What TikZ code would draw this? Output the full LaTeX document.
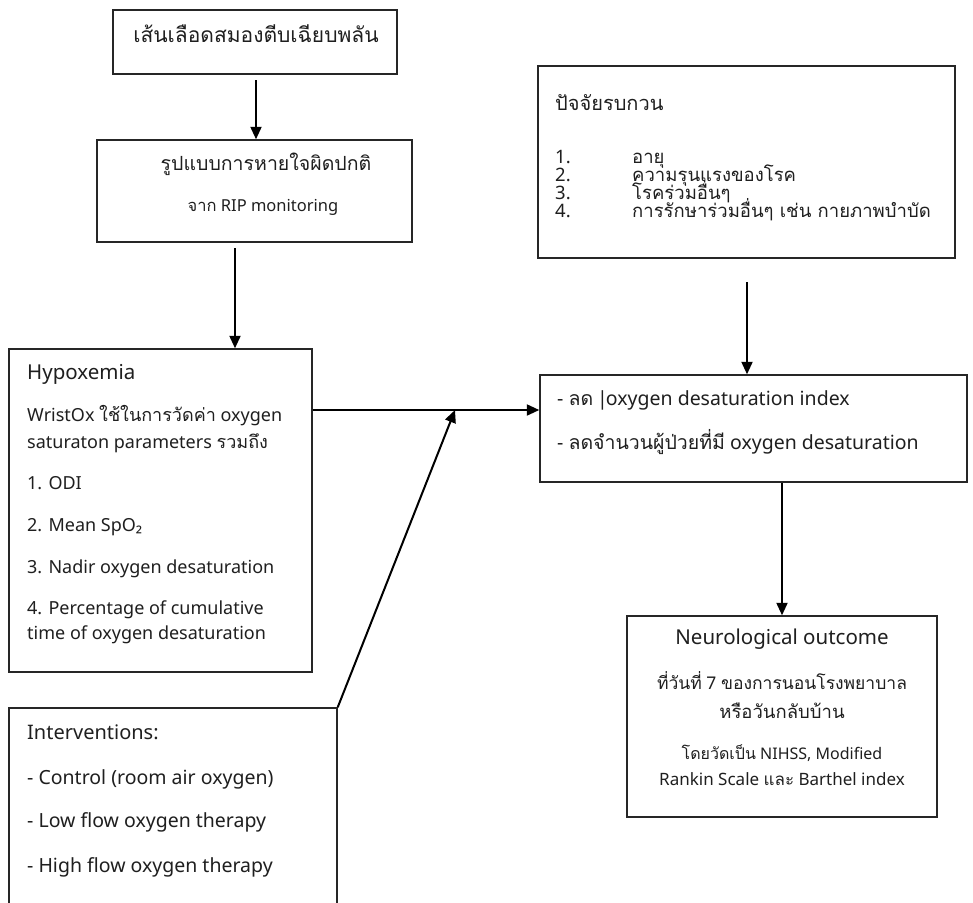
\documentclass[tikz,border=0pt]{standalone}
\usepackage{fontspec}
\setmainfont{Noto Sans}
\newfontfamily\tht[Script=Thai]{Loma}
\usetikzlibrary{arrows.meta}
\tikzset{
  box/.style={draw=black!85, line width=1.4pt, inner sep=0pt},
  conn/.style={line width=2pt, draw=black, -{Triangle[length=12.5pt,width=11pt]}},
  txt/.style={anchor=base west, inner sep=0pt, text=black!88, font=\fontsize{18}{21}\selectfont},
  ctxt/.style={anchor=base, inner sep=0pt, text=black!88, font=\fontsize{18}{21}\selectfont},
  fs/.style={font=\fontsize{#1}{#1}\selectfont},
}
\begin{document}
\begin{tikzpicture}[x=1pt,y=-1pt]
\useasboundingbox (0,0) rectangle (973,902);
\clip (0,0) rectangle (973,902);
\fill[white] (0,0) rectangle (973,902);

% boxes
\node[box, minimum width=284pt, minimum height=64pt] (b1) at (255,42) {};
\node[box, minimum width=315pt, minimum height=102pt] (b2) at (254.5,191) {};
\node[box, minimum width=303pt, minimum height=323pt] (hyp) at (160.5,510.5) {};
\node[box, minimum width=328pt, minimum height=210pt] (intv) at (173,813) {};
\node[box, minimum width=417pt, minimum height=192pt] (conf) at (746.5,162) {};
\node[box, minimum width=427pt, minimum height=107pt] (red) at (753.5,428.5) {};
\node[box, minimum width=310pt, minimum height=201pt] (out) at (782,716.5) {};

% box 1
\node[ctxt, fs=21] (t1) at (256,42) {\tht เส้นเลือดสมองตีบเฉียบพลัน};
% box 2
\node[ctxt, fs=19.5] (t2a) at (266,170) {\tht รูปแบบการหายใจผิดปกติ};
\node[ctxt, fs=16.5] (t2b) at (263,211) {{\tht จาก} RIP monitoring};
% hypoxemia
\node[txt, fs=20.5] (h0) at (27,379) {Hypoxemia};
\node[txt] (h1) at (27,421) {WristOx {\tht ใช้ในการวัดค่า} oxygen};
\node[txt] (h2) at (27,448) {saturaton parameters {\tht รวมถึง}};
\node[txt] (h3) at (27,489) {1. ODI};
\node[txt] (h4) at (27,531) {2. Mean SpO₂};
\node[txt] (h5) at (27,573) {3. Nadir oxygen desaturation};
\node[txt] (h6) at (27,614) {4. Percentage of cumulative};
\node[txt] (h7) at (27,639) {time of oxygen desaturation};
% interventions
\node[txt, fs=20] (i0) at (27,739) {Interventions:};
\node[txt, fs=19.5] (i1) at (27,784) {- Control (room air oxygen)};
\node[txt, fs=19.5] (i2) at (27,827) {- Low flow oxygen therapy};
\node[txt, fs=19.5] (i3) at (27,872) {- High flow oxygen therapy};
% confounders
\node[txt, fs=20] (c0) at (555,110) {\tht ปัจจัยรบกวน};
\node[txt, fs=18.5] (n1) at (555,163) {1.};
\node[txt, fs=18.5] (n2) at (555,181) {2.};
\node[txt, fs=18.5] (n3) at (555,199) {3.};
\node[txt, fs=18.5] (n4) at (555,217) {4.};
\node[txt, fs=18.5] (c1) at (632,163) {\tht อายุ};
\node[txt, fs=18.5] (c2) at (632,181) {\tht ความรุนแรงของโรค};
\node[txt, fs=18.5] (c3) at (632,199) {\tht โรคร่วมอื่นๆ};
\node[txt, fs=18.5] (c4) at (632,217) {\tht การรักษาร่วมอื่นๆ เช่น กายภาพบำบัด};
% reduction box
\node[txt, fs=19.5] (r1) at (557,405) {- {\tht ลด} \kern-1pt|\kern-2pt oxygen desaturation index};
\node[txt, fs=19.5] (r2) at (557,449) {- {\tht ลดจำนวนผู้ป่วยที่มี} oxygen desaturation};
% outcome
\node[ctxt, fs=20.5] (o1) at (782,644) {Neurological outcome};
\node[ctxt, fs=17.5] (o2) at (782,689) {{\tht ที่วันที่} 7 {\tht ของการนอนโรงพยาบาล}};
\node[ctxt, fs=18.5] (o3) at (782,718) {\tht หรือวันกลับบ้าน};
\node[ctxt, fs=16] (o4) at (782,759) {{\tht โดยวัดเป็น} NIHSS, Modified};
\node[ctxt, fs=17] (o5) at (782,785) {Rankin Scale {\tht และ} Barthel index};

% connectors
\coordinate (a1) at (256,80);
\coordinate (a2) at (235,248);
\coordinate (a3) at (747,282);
\coordinate (jn) at (455,410);
\draw[conn] (a1) -- (a1 |- b2.north);
\draw[conn] (a2) -- (a2 |- hyp.north);
\draw[conn] (a3) -- (a3 |- red.north);
\draw[conn] (hyp.east |- jn) -- (red.west |- jn);
\draw[conn] (intv.north east) -- (jn);
\draw[conn] (red.south -| out.north) -- (out.north);
\end{tikzpicture}
\end{document}
